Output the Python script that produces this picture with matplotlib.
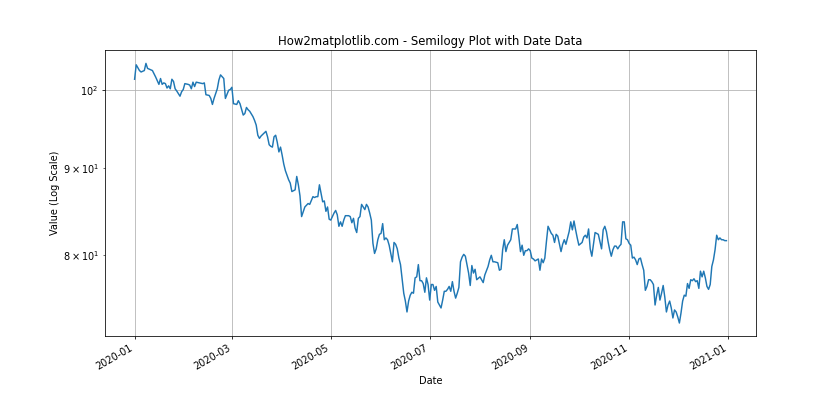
import matplotlib
matplotlib.use("Agg")
import matplotlib.pyplot as plt
import pandas as pd

# day offsets from 2020-01-01 and values
day_offsets = [
    0, 1, 3, 4, 6, 7, 8, 10, 11, 13, 15, 16, 17, 18, 19, 20, 21, 22, 23, 24,
    25, 26, 28, 29, 30, 31, 33, 34, 35, 36, 37, 38, 40, 42, 43, 44, 46, 47, 48, 49,
    51, 52, 53, 55, 56, 58, 59, 60, 61, 63, 64, 65, 67, 68, 69, 70, 71, 73, 74, 75,
    76, 77, 78, 80, 81, 82, 83, 84, 85, 86, 87, 88, 89, 90, 91, 92, 93, 95, 96, 97,
    99, 100, 101, 102, 103, 105, 106, 107, 108, 110, 111, 112, 113, 114, 115, 116, 117, 118, 119, 120,
    121, 123, 124, 125, 126, 127, 128, 129, 130, 132, 133, 134, 135, 136, 137, 138, 139, 140, 141, 142,
    143, 144, 145, 146, 147, 148, 149, 150, 151, 152, 153, 154, 155, 156, 157, 158, 159, 160, 161, 162,
    163, 164, 165, 166, 167, 168, 169, 170, 171, 172, 173, 174, 175, 176, 177, 178, 179, 180, 181, 182,
    183, 184, 185, 186, 187, 188, 189, 190, 191, 192, 193, 194, 195, 196, 197, 198, 199, 200, 201, 202,
    203, 204, 206, 207, 208, 209, 210, 211, 213, 214, 215, 216, 218, 219, 220, 221, 222, 224, 225, 226,
    227, 228, 229, 230, 231, 232, 233, 235, 236, 237, 238, 239, 240, 241, 242, 243, 244, 245, 246, 247,
    249, 250, 251, 252, 253, 254, 255, 257, 258, 259, 260, 261, 263, 264, 265, 266, 267, 268, 269, 270,
    271, 272, 273, 274, 276, 277, 278, 279, 280, 281, 282, 283, 284, 285, 286, 288, 289, 290, 291, 292,
    293, 294, 295, 296, 297, 298, 299, 300, 301, 302, 303, 304, 305, 306, 307, 308, 309, 310, 311, 312,
    313, 314, 315, 316, 317, 318, 319, 320, 321, 322, 323, 324, 325, 326, 327, 328, 329, 330, 331, 332,
    333, 334, 335, 336, 337, 338, 339, 340, 341, 342, 343, 344, 345, 346, 347, 348, 349, 350, 351, 352,
    353, 354, 355, 356, 357, 358, 359, 360, 361, 362, 363, 364, 365,
]
values = [
    101.5, 103.5, 102.7, 102.5, 102.7, 103.7, 103.0, 102.8, 102.7, 101.8, 100.8, 101.6, 100.8, 101.0, 100.9, 100.3, 100.6, 100.2, 101.5, 101.2,
    100.2, 99.9, 99.2, 99.8, 100.1, 100.9, 100.8, 100.7, 100.2, 101.1, 100.5, 101.1, 101.0, 100.9, 101.0, 99.4, 99.3, 98.9, 98.1, 98.9,
    100.2, 101.4, 102.1, 101.6, 98.9, 100.0, 100.1, 100.4, 98.2, 98.1, 98.6, 98.2, 96.7, 96.9, 97.7, 97.4, 97.2, 96.5, 96.0, 95.4,
    94.1, 93.7, 94.0, 94.4, 94.6, 93.9, 92.9, 92.7, 92.6, 93.9, 94.1, 93.2, 92.0, 92.6, 91.6, 90.5, 89.7, 88.6, 88.2, 87.2,
    87.4, 89.0, 88.0, 86.7, 84.3, 85.4, 85.6, 85.8, 85.7, 86.6, 86.5, 86.6, 86.6, 88.0, 87.0, 86.0, 86.1, 84.9, 85.4, 84.0,
    83.9, 84.7, 85.0, 84.5, 83.2, 83.7, 83.2, 83.9, 84.4, 84.4, 84.3, 83.6, 84.1, 83.0, 82.5, 84.1, 84.3, 85.7, 85.4, 85.1,
    85.7, 85.4, 84.7, 83.9, 81.3, 80.2, 80.7, 81.7, 82.3, 82.4, 83.5, 81.7, 81.9, 81.7, 81.1, 80.2, 79.3, 81.4, 81.2, 80.7,
    79.7, 79.0, 77.5, 76.0, 75.2, 74.1, 75.2, 75.8, 76.1, 76.0, 77.6, 77.7, 79.0, 77.3, 77.3, 77.0, 76.1, 77.6, 76.9, 75.3,
    76.9, 76.9, 76.3, 76.7, 75.1, 74.8, 74.5, 75.3, 76.2, 76.2, 76.4, 76.7, 76.2, 77.2, 76.2, 75.5, 76.0, 76.6, 79.3, 79.8,
    80.1, 79.9, 78.1, 76.8, 78.9, 78.1, 78.5, 77.4, 77.7, 77.4, 77.1, 77.9, 78.8, 79.5, 80.0, 79.3, 79.3, 79.2, 78.4, 78.5,
    80.6, 81.7, 80.4, 81.1, 81.4, 81.7, 82.9, 82.9, 83.4, 82.0, 80.4, 81.1, 80.0, 80.5, 80.5, 80.7, 80.5, 79.7, 79.6, 79.4,
    79.6, 78.4, 79.6, 79.2, 79.7, 81.5, 83.2, 82.4, 82.2, 81.4, 82.3, 82.1, 80.4, 81.2, 81.7, 81.2, 81.9, 82.6, 83.7, 82.8,
    83.8, 82.8, 81.9, 81.1, 81.4, 82.0, 82.2, 81.9, 82.9, 80.7, 79.9, 81.2, 82.5, 82.4, 82.3, 80.7, 82.8, 83.2, 82.6, 81.5,
    80.6, 79.9, 80.6, 81.0, 81.0, 80.7, 81.0, 81.2, 83.7, 83.7, 81.8, 81.7, 81.3, 81.1, 79.7, 79.8, 79.5, 79.0, 79.6, 79.7,
    79.0, 78.4, 76.3, 76.7, 77.4, 77.4, 77.2, 76.9, 74.8, 75.8, 76.6, 75.3, 76.0, 76.8, 75.6, 74.1, 74.8, 75.2, 74.5, 73.5,
    74.3, 74.1, 73.6, 73.0, 74.0, 75.2, 75.8, 75.7, 77.0, 76.5, 77.4, 77.3, 77.5, 77.2, 77.3, 76.5, 78.3, 77.7, 78.3, 77.6,
    76.7, 76.4, 76.9, 78.8, 79.5, 80.6, 82.2, 81.7, 81.9, 81.7, 81.7, 81.6, 81.6,
]

dates = pd.Timestamp("2020-01-01") + pd.to_timedelta(day_offsets, unit="D")

fig, ax = plt.subplots(figsize=(12, 6), dpi=70)
ax.semilogy(dates, values)
ax.set_title("How2matplotlib.com - Semilogy Plot with Date Data")
ax.set_xlabel("Date")
ax.set_ylabel("Value (Log Scale)")
ax.grid(True)
fig.autofmt_xdate()
plt.savefig("out.png", dpi=70)
